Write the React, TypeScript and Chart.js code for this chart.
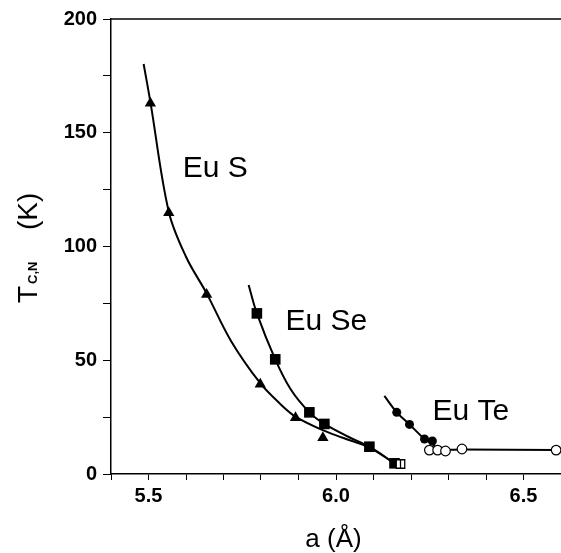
import React, { useEffect, useRef } from 'react';
import { Chart, registerables } from 'chart.js';

Chart.register(...registerables);

// ---- data ----
// EuS (filled triangles)
const euSX = [5.505, 5.554, 5.655, 5.798, 5.892, 5.965];
const euSY = [163.0, 114.8, 78.9, 39.4, 24.7, 15.9];
// EuS guide curve
const euSCurveX = [5.487, 5.505, 5.554, 5.6, 5.655, 5.72, 5.798, 5.85, 5.892, 5.96, 6.02, 6.089, 6.156];
const euSCurveY = [180.2, 163.6, 115.3, 95.5, 79.4, 58.5, 39.9, 31.0, 25.2, 19.6, 15.8, 11.6, 4.7];
// EuSe (filled squares)
const euSeX = [5.789, 5.838, 5.929, 5.969, 6.089, 6.156];
const euSeY = [70.6, 50.4, 27.1, 22.0, 12.0, 4.7];
// EuSe guide curve
const euSeCurveX = [5.767, 5.789, 5.838, 5.88, 5.929, 5.969, 6.03, 6.089, 6.156];
const euSeCurveY = [83.1, 70.6, 50.4, 37.0, 27.1, 22.0, 16.6, 12.0, 4.7];
// half-open square at the end of the EuSe curve
const halfSqX = [6.172];
const halfSqY = [4.4];
// EuTe filled circles
const euTeFilledX = [6.162, 6.196, 6.236, 6.257];
const euTeFilledY = [27.1, 21.8, 15.4, 14.5];
// EuTe open circles
const euTeOpenX = [6.249, 6.271, 6.292, 6.336, 6.587];
const euTeOpenY = [10.5, 10.5, 10.1, 11.0, 10.5];
// EuTe guide curve
const euTeCurveX = [6.129, 6.162, 6.196, 6.236, 6.257, 6.272, 6.336, 6.587];
const euTeCurveY = [34.3, 27.1, 21.8, 15.4, 13.2, 10.9, 10.8, 10.5];

// compound labels (left x, baseline y in data units)
const labelTexts = ['Eu S', 'Eu Se', 'Eu Te'];
const labelX = [5.591, 5.865, 6.257];
const labelY = [130.5, 63.3, 23.7];

// axis ranges / ticks
const xMin = 5.4;
const xMax = 6.6;
const xStep = 0.1;
const yMin = 0;
const yMax = 200;
const yStep = 25;

const FONT = '"Liberation Sans", Arial, Helvetica, sans-serif';

const pts = (xs: number[], ys: number[]) => xs.map((x, i) => ({ x, y: ys[i] }));

const overlayPlugin = {
  id: 'overlay',
  afterDraw(chart: any) {
    const { ctx, chartArea, scales } = chart;
    const xs = scales.x;
    const ys = scales.y;
    ctx.save();
    // top frame line
    ctx.strokeStyle = '#000';
    ctx.lineWidth = 1.5;
    ctx.beginPath();
    ctx.moveTo(chartArea.left, chartArea.top);
    ctx.lineTo(chart.width, chartArea.top);
    ctx.stroke();

    // compound labels
    ctx.fillStyle = '#000';
    ctx.font = `30px ${FONT}`;
    ctx.textBaseline = 'alphabetic';
    ctx.textAlign = 'left';
    labelTexts.forEach((t, i) => {
      ctx.fillText(t, xs.getPixelForValue(labelX[i]), ys.getPixelForValue(labelY[i]));
    });

    // x axis title
    ctx.font = `26px ${FONT}`;
    ctx.textAlign = 'center';
    ctx.fillText('a (Å)', 333.5, 547);

    // y axis title: T_{C,N} (K), rotated
    ctx.translate(37, 303);
    ctx.rotate(-Math.PI / 2);
    ctx.textAlign = 'left';
    ctx.font = `28px ${FONT}`;
    ctx.fillText('T', 0, 0);
    const tw = ctx.measureText('T').width;
    ctx.font = `bold 13px ${FONT}`;
    ctx.fillText('C,N', tw + 2, 0);
    ctx.font = `28px ${FONT}`;
    ctx.fillText('(K)', 73, 0);
    ctx.restore();
  },
};

export default function App() {
  const ref = useRef<HTMLCanvasElement | null>(null);

  useEffect(() => {
    if (!ref.current) return;
    const lineDs = (xs: number[], ys: number[]) => ({
      data: pts(xs, ys),
      showLine: true,
      borderColor: '#000',
      borderWidth: 2,
      pointRadius: 0,
      tension: 0.35,
      fill: false,
      clip: false as const,
      order: 10,
    });
    const chart = new Chart(ref.current, {
      type: 'scatter',
      data: {
        datasets: [
          lineDs(euSCurveX, euSCurveY),
          lineDs(euSeCurveX, euSeCurveY),
          lineDs(euTeCurveX, euTeCurveY),
          {
            data: pts(euSX, euSY),
            pointStyle: 'triangle',
            pointRadius: 6.5,
            backgroundColor: '#000',
            borderColor: '#000',
            borderWidth: 0,
            clip: false,
            order: 3,
          },
          {
            data: pts(euSeX, euSeY),
            pointStyle: 'rect',
            pointRadius: 7.5,
            backgroundColor: '#000',
            borderColor: '#000',
            borderWidth: 0,
            clip: false,
            order: 3,
          },
          {
            data: pts(halfSqX, halfSqY),
            pointStyle: 'rect',
            pointRadius: 6,
            backgroundColor: '#fff',
            borderColor: '#000',
            borderWidth: 1.3,
            clip: false,
            order: 2,
          },
          {
            data: pts(halfSqX, halfSqY),
            pointStyle: 'line',
            rotation: 90,
            pointRadius: 4.2,
            backgroundColor: '#000',
            borderColor: '#000',
            borderWidth: 1.3,
            clip: false,
            order: 1,
          },
          {
            data: pts(euTeFilledX, euTeFilledY),
            pointStyle: 'circle',
            pointRadius: 4.5,
            backgroundColor: '#000',
            borderColor: '#000',
            borderWidth: 0,
            clip: false,
            order: 3,
          },
          {
            data: pts(euTeOpenX, euTeOpenY),
            pointStyle: 'circle',
            pointRadius: 4.8,
            backgroundColor: '#fff',
            borderColor: '#000',
            borderWidth: 1.2,
            clip: false,
            order: 2,
          },
        ] as any,
      },
      options: {
        animation: false,
        responsive: true,
        maintainAspectRatio: false,
        layout: { autoPadding: false, padding: { top: 19, right: 0, left: 0, bottom: 0 } },
        plugins: { legend: { display: false }, tooltip: { enabled: false } },
        scales: {
          x: {
            type: 'linear',
            min: xMin,
            max: xMax,
            afterFit: (s: any) => {
              s.height = 79;
              s.paddingLeft = 0;
              s.paddingRight = 0;
            },
            border: { display: true, color: '#000', width: 1.5 },
            grid: { drawOnChartArea: false, drawTicks: true, tickLength: 6, color: '#000', lineWidth: 1 },
            ticks: {
              stepSize: xStep,
              autoSkip: false,
              maxRotation: 0,
              padding: 4,
              color: '#000',
              font: { family: FONT, size: 20, weight: 'bold' },
              callback: (v: any) => {
                const r = Math.round(Number(v) * 10);
                return r % 5 === 0 ? (r / 10).toFixed(1) : '';
              },
            },
          },
          y: {
            type: 'linear',
            min: yMin,
            max: yMax,
            afterFit: (s: any) => {
              s.width = 111;
              s.paddingTop = 0;
              s.paddingBottom = 0;
            },
            border: { display: true, color: '#000', width: 1.5 },
            grid: { drawOnChartArea: false, drawTicks: true, tickLength: 8, color: '#000', lineWidth: 1 },
            ticks: {
              stepSize: yStep,
              autoSkip: false,
              padding: 6,
              color: '#000',
              font: { family: FONT, size: 20, weight: 'bold' },
              callback: (v: any) => (Number(v) % 50 === 0 ? String(v) : ''),
            },
          },
        },
      } as any,
      plugins: [overlayPlugin],
    });
    return () => chart.destroy();
  }, []);

  return (
    <div style={{ position: 'fixed', left: 0, top: 0, width: 561, height: 553, background: '#fff' }}>
      <canvas ref={ref} />
    </div>
  );
}
